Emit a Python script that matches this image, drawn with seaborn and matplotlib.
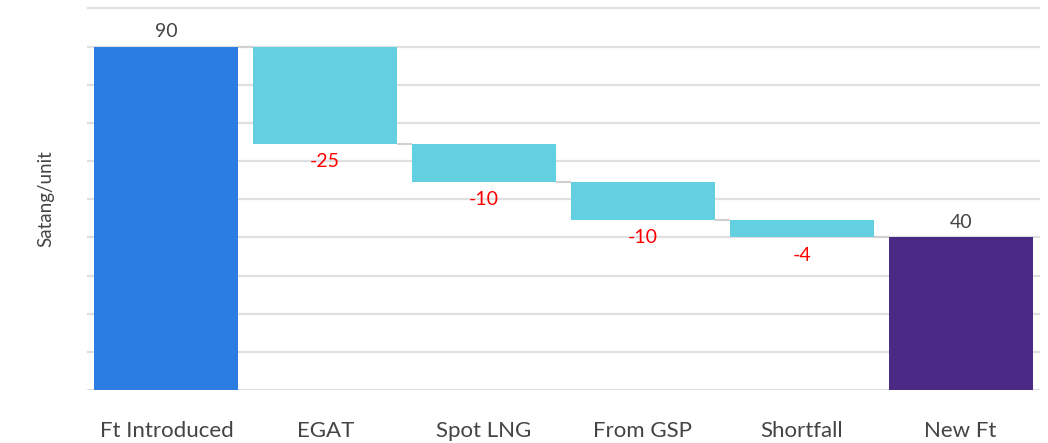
import matplotlib
matplotlib.use("Agg")
import matplotlib.pyplot as plt
import seaborn as sns
import numpy as np
import pandas as pd

categories = ["Ft Introduced", "EGAT", "Spot LNG", "From GSP", "Shortfall", "New Ft"]
start_value = 90
deltas = [-25.4, -10, -10, -4.6]
end_value = 40
bar_colors = ["#2B7DE1", "#62D0E0", "#62D0E0", "#62D0E0", "#62D0E0", "#4B2A86"]

# waterfall geometry from data
levels = [start_value]
for d in deltas:
    levels.append(levels[-1] + d)
bottoms = [0] + [min(levels[i], levels[i + 1]) for i in range(len(deltas))] + [0]
heights = [start_value] + [abs(d) for d in deltas] + [end_value]
tops = [b + h for b, h in zip(bottoms, heights)]

df = pd.DataFrame({"cat": categories, "height": heights})

sns.set_theme(style="white")
plt.rcParams["font.family"] = ["Lato", "DejaVu Sans"]

fig = plt.figure(figsize=(10.48, 4.43), dpi=100)
ax = fig.add_axes([0.083, 0.1196, 0.9094, 0.8639])

width = 0.906
sns.barplot(data=df, x="cat", y="height", hue="cat", palette=bar_colors,
            order=categories, hue_order=categories, width=width, legend=False,
            ax=ax, saturation=1, linewidth=0, zorder=3)

for p in ax.patches:
    cx = p.get_x() + p.get_width() / 2
    i = int(round(cx))
    p.set_y(bottoms[i])
    p.set_height(heights[i])

# connectors
for i in range(len(levels)):
    ax.hlines(levels[i], i + width / 2, i + 1 - width / 2, color="#d0d0d0", lw=1.5, zorder=2)

ax.set_xlim(-0.5, 5.5)
ax.set_ylim(0, 100.3)
ax.set_yticks(np.arange(0, 101, 10))
ax.set_yticklabels([])
ax.tick_params(axis="y", length=0)
ax.tick_params(axis="x", length=0, pad=22)
ax.yaxis.grid(True, color="#e0e0e0", lw=1.6)
ax.set_axisbelow(True)
for s in ax.spines.values():
    s.set_visible(False)

ax.set_xlabel("")
ax.set_ylabel("Satang/unit", fontsize=13.5, color="#444444", labelpad=20)
for lbl in ax.get_xticklabels():
    lbl.set_fontsize(16)
    lbl.set_color("#444444")

# value labels
ax.text(0, tops[0] + 1.8, f"{start_value:g}", ha="center", va="bottom", fontsize=14, color="#444444")
ax.text(5, tops[5] + 1.8, f"{end_value:g}", ha="center", va="bottom", fontsize=14, color="#444444")
for k, d in enumerate(deltas):
    i = k + 1
    ax.text(i, bottoms[i] - 2.4, f"{int(d)}", ha="center", va="top", fontsize=14, color="#FF0000")

fig.savefig("out.png", dpi=100)
